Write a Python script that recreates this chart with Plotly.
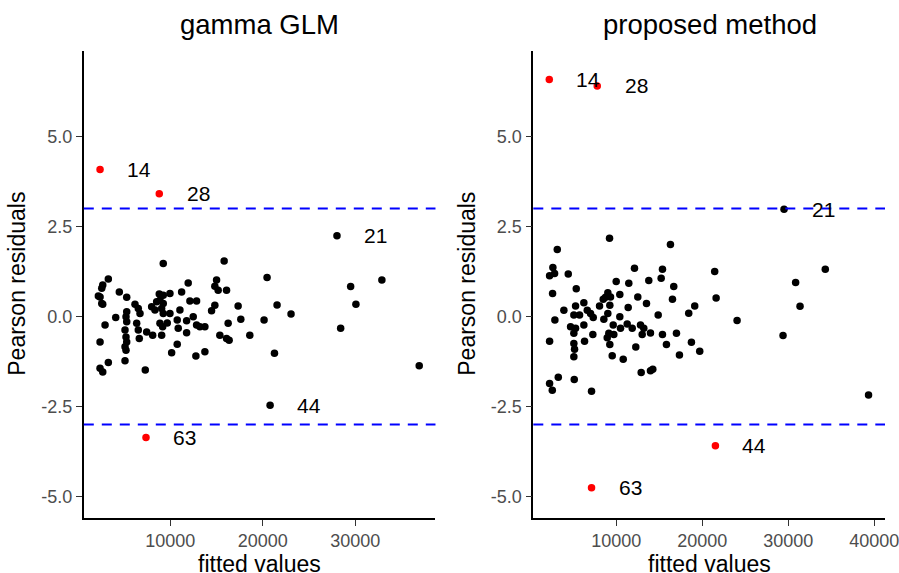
import plotly.graph_objects as go

# ---- gamma GLM: fitted values and Pearson residuals ----
glm_fitted = [9245, 15825, 3312, 2708, 2600, 2233, 2416, 2600, 2708, 4498,
              5296, 8813, 9245, 9967, 8888, 8533, 9245, 7993, 8349, 9072,
              9245, 9967, 11229, 11941, 12125, 12847, 6192, 6548, 6731, 15005,
              14821, 15177, 16083, 17335, 14821, 14465, 4110, 5296, 5221, 5296,
              5113, 5221, 5296, 5113, 5221, 2956, 2416, 2416, 2708, 3312,
              6375, 6548, 6656, 5113, 7303, 7454, 8101, 8888, 9180, 9676,
              9072, 10863, 10755, 11046, 11769, 11769, 12481, 12847, 13203, 13743,
              10151, 10755, 12772, 13743, 15361, 16256, 16083, 16364, 17626, 18597,
              20463, 21542, 23052, 20139, 21261, 29492, 30063, 32868, 28413, 36902]
glm_resid = [1.47, 1.54, 1.04, 0.87, 0.78, 0.57, 0.54, 0.36, 0.34, 0.68,
             0.53, 0.62, 0.59, 0.64, 0.45, 0.41, 0.36, 0.27, 0.18, 0.22,
             0.08, 0.08, 0.68, 0.93, 0.43, 0.43, 0.34, 0.22, 0.08, 1.01,
             0.84, 0.73, 0.73, 0.29, 0.31, 0.16, -0.03, 0.13, -0.01, -0.15,
             -0.38, -0.57, -0.71, -0.84, -0.94, -0.24, -0.71, -1.44, -1.54, -1.28,
             -0.19, -0.38, -0.61, -1.23, -1.49, -0.43, -0.52, -0.19, -0.29, -0.18,
             -0.52, -0.33, -0.10, 0.18, -0.12, -0.45, -0.01, -0.24, -0.29, -0.29,
             -1.01, -0.77, -1.10, -0.98, -0.52, -0.19, -0.61, -0.66, -0.08, -0.52,
             1.08, 0.32, 0.07, -0.10, -1.02, 0.83, 0.34, 1.01, -0.33, -1.37]

# flagged observations (|residual| > 3 in red)
glm_lab_id = ["14", "28", "21", "44", "63"]
glm_lab_fitted = [2416, 8814, 28015, 20790, 7379]
glm_lab_resid = [4.08, 3.41, 2.24, -2.47, -3.36]
glm_lab_flag = [True, True, False, False, True]

# ---- proposed method ----
pm_fitted = [9222, 3147, 16306, 2636, 2253, 2834, 4425, 12125, 15377, 15226,
             13786, 10000, 11463, 16689, 5354, 2602, 9024, 9338, 8757, 10418,
             12508, 16538, 8490, 6237, 5273, 9256, 8060, 13519, 11393, 19128,
             18431, 3914, 6632, 7015, 7328, 5075, 5737, 9024, 10418, 14878,
             8560, 2869, 6237, 9651, 10499, 11277, 11858, 12822, 13205, 4692,
             5273, 5075, 7282, 9140, 9721, 13019, 13983, 15377, 17003, 2253,
             5075, 5157, 5075, 6318, 8954, 9256, 9535, 10813, 12276, 15841,
             18745, 17351, 19709, 12903, 13983, 14250, 2253, 2567, 3264, 5122,
             7131, 39337, 21451, 21614, 24053, 34308, 30858, 31370, 29395]
pm_resid = [2.17, 1.86, 2.00, 1.36, 1.13, 1.19, 1.18, 1.34, 1.31, 1.06,
            1.00, 0.97, 0.92, 0.83, 0.77, 0.64, 0.66, 0.54, 0.53, 0.61,
            0.54, 0.48, 0.48, 0.38, 0.29, 0.31, 0.29, 0.36, 0.25, 0.29,
            0.09, 0.17, 0.17, 0.08, -0.03, 0.04, 0.04, 0.08, -0.01, 0.04,
            -0.08, -0.10, -0.24, -0.24, -0.33, -0.21, -0.33, -0.24, -0.33, -0.29,
            -0.33, -0.47, -0.50, -0.47, -0.50, -0.50, -0.46, -0.50, -0.47, -0.69,
            -0.75, -0.91, -1.12, -0.69, -0.59, -0.78, -1.09, -1.19, -0.85, -0.78,
            -0.72, -1.07, -0.97, -1.56, -1.51, -1.47, -1.86, -2.05, -1.69, -1.75,
            -2.08, -2.18, 1.25, 0.51, -0.11, 1.31, 0.94, 0.28, -0.53]

pm_lab_id = ["14", "28", "21", "44", "63"]
pm_lab_fitted = [2218, 7793, 29511, 21532, 7131]
pm_lab_resid = [6.58, 6.40, 2.98, -3.59, -4.76]
pm_lab_flag = [True, True, False, True, True]

y_ticks = [-5.0, -2.5, 0.0, 2.5, 5.0]
x_ticks_glm = [10000, 20000, 30000]
x_ticks_pm = [10000, 20000, 30000, 40000]
cutoff = 3

W, H = 899, 573
# width actually laid out by the page (viewport minus scrollbar gutter)
W_LAYOUT = 884
FONT = "Liberation Sans, Arial, sans-serif"


def px_x(p):
    return min(p / W_LAYOUT, 1.0)


def px_y(p):
    return (H - p) / H


fig = go.Figure()

panels = [
    ("x", "y", glm_fitted, glm_resid, glm_lab_id, glm_lab_fitted, glm_lab_resid, glm_lab_flag),
    ("x2", "y2", pm_fitted, pm_resid, pm_lab_id, pm_lab_fitted, pm_lab_resid, pm_lab_flag),
]

for xa, ya, fx, ry, ids, lx, ly, flag in panels:
    fig.add_trace(go.Scatter(x=fx, y=ry, mode="markers", xaxis=xa, yaxis=ya,
                             marker=dict(color="black", size=7.5),
                             hoverinfo="skip", showlegend=False))
    fig.add_trace(go.Scatter(x=lx, y=ly, mode="markers", xaxis=xa, yaxis=ya,
                             marker=dict(color=["red" if f else "black" for f in flag],
                                         size=7.5),
                             hoverinfo="skip", showlegend=False))
    for t, xv, yv in zip(ids, lx, ly):
        fig.add_annotation(x=xv, y=yv, xref=xa, yref=ya, text=t, showarrow=False,
                           xanchor="center", yanchor="middle", xshift=39,
                           font=dict(family=FONT, size=21, color="black"))
    for c in (cutoff, -cutoff):
        fig.add_shape(type="line", xref=f"{xa} domain", yref=ya, x0=0, x1=1, y0=c, y1=c,
                      line=dict(color="blue", width=2, dash="10px,8px"))

y_dom = [px_y(517.7), px_y(50.7)]
axis_common = dict(showgrid=False, zeroline=False, showline=True, linecolor="black",
                   linewidth=1.6, ticks="outside", ticklen=6, tickwidth=1.2,
                   tickcolor="#333333", ticklabeloverflow="allow",
                   tickfont=dict(family=FONT, size=18, color="#4D4D4D"))

fig.update_layout(
    width=W, height=H, margin=dict(l=0, r=0, t=0, b=0),
    paper_bgcolor="white", plot_bgcolor="white",
    xaxis=dict(domain=[px_x(83.7), px_x(435)], range=[660, 38660],
               tickvals=x_ticks_glm, ticktext=[str(v) for v in x_ticks_glm],
               anchor="y", **axis_common),
    yaxis=dict(domain=y_dom, range=[-5.59, 7.38], tickvals=y_ticks,
               ticktext=[f"{v:.1f}" for v in y_ticks], anchor="x", **axis_common),
    xaxis2=dict(domain=[px_x(532.7), px_x(885)], range=[360, 41250],
                tickvals=x_ticks_pm, ticktext=[str(v) for v in x_ticks_pm],
                anchor="y2", **axis_common),
    yaxis2=dict(domain=y_dom, range=[-5.59, 7.38], tickvals=y_ticks,
                ticktext=[f"{v:.1f}" for v in y_ticks], anchor="x2", **axis_common),
)

# panel titles and axis titles
for cx, title in [((83.7 + 435) / 2, "gamma GLM"), ((532.7 + 885) / 2, "proposed method")]:
    fig.add_annotation(x=px_x(cx), y=px_y(24), xref="paper", yref="paper", text=title,
                       xanchor="center", yanchor="middle", showarrow=False,
                       font=dict(family=FONT, size=27.5, color="black"))
    fig.add_annotation(x=px_x(cx), y=px_y(563.5), xref="paper", yref="paper",
                       text="fitted values", xanchor="center", yanchor="middle",
                       showarrow=False, font=dict(family=FONT, size=23, color="black"))
for cx in (17.5, 467):
    fig.add_annotation(x=px_x(cx), y=px_y(284.2), xref="paper", yref="paper",
                       text="Pearson residuals", textangle=-90, showarrow=False,
                       xanchor="center", yanchor="middle",
                       font=dict(family=FONT, size=23, color="black"))

fig.write_html("out.html")
